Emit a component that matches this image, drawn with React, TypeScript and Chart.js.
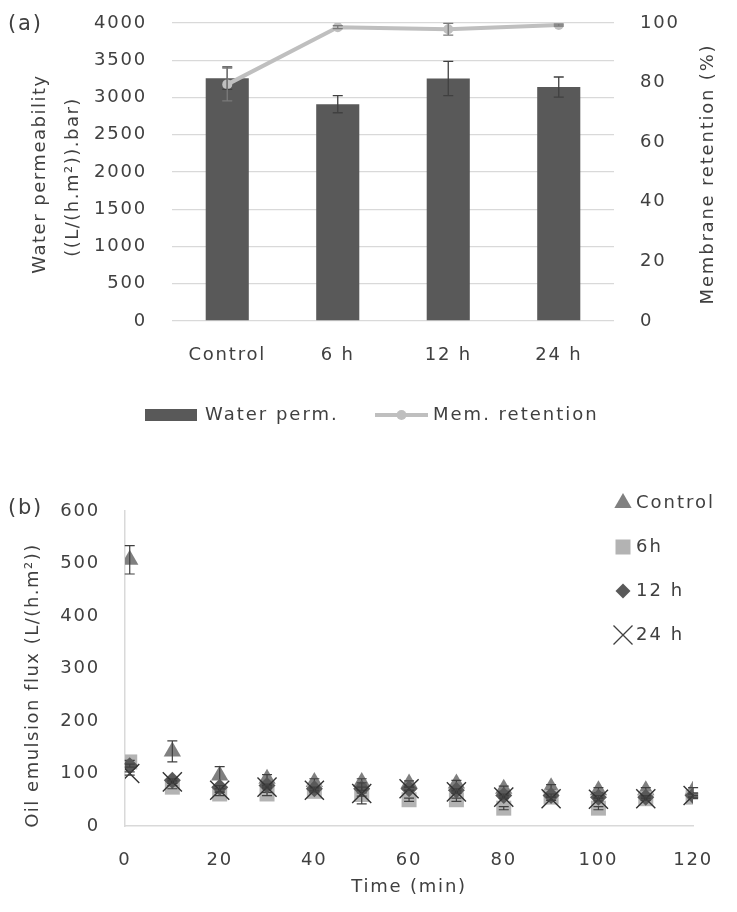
import React, { useEffect, useRef } from "react";
import { Chart, registerables } from "chart.js";

Chart.register(...registerables);

// ---------- Data: chart (a) ----------
const categoriesA = ["Control", "6 h", "12 h", "24 h"];
const waterPerm = [3260, 2910, 3255, 3140];
const waterPermErr = [150, 115, 230, 135];
const memRetention = [79.4, 98.6, 97.9, 99.3];
const memRetentionErr = [5.5, 0.5, 2, 0.3];

// ---------- Data: chart (b) ----------
const timeMin = [1, 10, 20, 30, 40, 50, 60, 70, 80, 90, 100, 110, 120];
const fluxControl = [507, 142, 96, 90, 84, 84, 81, 81, 71, 74, 68, 68, 68];
const fluxControlErr = [27, 20, 17, 8, 6, 6, 5, 6, 5, 5, 5, 5, 5];
const flux6h = [122, 74, 61, 61, 66, 60, 50, 50, 34, 55, 34, 52, 55];
const flux6hErr = [3, 3, 3, 3, 3, 3, 3, 3, 3, 3, 3, 3, 3];
const flux12h = [115, 87, 74, 77, 71, 71, 71, 68, 58, 58, 55, 55, 58];
const flux12hErr = [3, 3, 3, 3, 3, 3, 3, 3, 3, 3, 3, 3, 3];
const flux24h = [100, 84, 68, 74, 68, 62, 71, 65, 55, 52, 51, 52, 58];
const flux24hErr = [3, 3, 3, 3, 3, 20, 3, 3, 3, 3, 3, 3, 3];

const legendB = ["Control", "6h", "12 h", "24 h"];

const FONT = "'DejaVu Sans', sans-serif";
const TEXT = "#404040";
const SPACING = "1.8px";

const spacingPlugin = {
  id: "spacing",
  beforeInit(chart: any) {
    chart.ctx.letterSpacing = SPACING;
  },
  beforeLayout(chart: any) {
    chart.ctx.letterSpacing = SPACING;
  },
  beforeDraw(chart: any) {
    chart.ctx.letterSpacing = SPACING;
  },
};

const plainTick = (v: any) => String(v);

function drawErr(ctx: CanvasRenderingContext2D, x: number, y1: number, y2: number, cap: number) {
  ctx.beginPath();
  ctx.moveTo(x, y1);
  ctx.lineTo(x, y2);
  ctx.moveTo(x - cap, y1);
  ctx.lineTo(x + cap, y1);
  ctx.moveTo(x - cap, y2);
  ctx.lineTo(x + cap, y2);
  ctx.stroke();
}

function text(
  ctx: CanvasRenderingContext2D,
  s: string,
  x: number,
  y: number,
  size: number,
  align: CanvasTextAlign,
  rot = 0,
  spacing = SPACING
) {
  ctx.save();
  (ctx as any).letterSpacing = spacing;
  ctx.font = `${size}px ${FONT}`;
  ctx.fillStyle = TEXT;
  ctx.textAlign = align;
  ctx.textBaseline = "middle";
  ctx.translate(x, y);
  if (rot) ctx.rotate(rot);
  ctx.fillText(s, 0, 0);
  ctx.restore();
}

const errorPluginA = {
  id: "errA",
  afterDatasetsDraw(chart: any) {
    const ctx = chart.ctx as CanvasRenderingContext2D;
    const y = chart.scales.y;
    const y1 = chart.scales.y1;
    const barMeta = chart.getDatasetMeta(0);
    const lineMeta = chart.getDatasetMeta(1);
    ctx.save();
    ctx.lineWidth = 1.3;
    ctx.strokeStyle = "#404040";
    barMeta.data.forEach((el: any, i: number) => {
      drawErr(
        ctx,
        el.x,
        y.getPixelForValue(waterPerm[i] + waterPermErr[i]),
        y.getPixelForValue(waterPerm[i] - waterPermErr[i]),
        5
      );
    });
    ctx.strokeStyle = "#7a7a7a";
    lineMeta.data.forEach((el: any, i: number) => {
      drawErr(
        ctx,
        el.x,
        y1.getPixelForValue(memRetention[i] + memRetentionErr[i]),
        y1.getPixelForValue(memRetention[i] - memRetentionErr[i]),
        5
      );
    });
    ctx.restore();
  },
};

const decorPluginA = {
  id: "decorA",
  afterDraw(chart: any) {
    const ctx = chart.ctx as CanvasRenderingContext2D;
    const area = chart.chartArea;
    const midY = (area.top + area.bottom) / 2 + 2;
    text(ctx, "(a)", 8, 25, 21, "left");
    text(ctx, "Water permeability", 40, midY, 18, "center", -Math.PI / 2, "1.5px");
    text(ctx, "((L/(h.m\u00B2)).bar)", 73, midY + 3, 18, "center", -Math.PI / 2, "1.5px");
    text(ctx, "Membrane retention (%)", 708, midY, 18, "center", -Math.PI / 2, "1.8px");
    // legend
    const ly = 415;
    ctx.save();
    ctx.fillStyle = "#595959";
    ctx.fillRect(145, ly - 6, 52, 12);
    ctx.strokeStyle = "#bfbfbf";
    ctx.lineWidth = 4;
    ctx.beginPath();
    ctx.moveTo(375, ly);
    ctx.lineTo(428, ly);
    ctx.stroke();
    ctx.fillStyle = "#bfbfbf";
    ctx.beginPath();
    ctx.arc(401.5, ly, 5, 0, Math.PI * 2);
    ctx.fill();
    ctx.restore();
    text(ctx, "Water perm.", 205, ly, 18, "left", 0, "2px");
    text(ctx, "Mem. retention", 433, ly, 18, "left", 0, "2px");
  },
};

const errSetsB = [fluxControlErr, flux6hErr, flux12hErr, flux24hErr];
const valSetsB = [fluxControl, flux6h, flux12h, flux24h];

const errorPluginB = {
  id: "errB",
  afterDatasetDraw(chart: any, args: any) {
    const d = args.index;
    const vals = valSetsB[d];
    const errs = errSetsB[d];
    if (!vals) return;
    const ctx = chart.ctx as CanvasRenderingContext2D;
    const xs = chart.scales.x;
    const ys = chart.scales.y;
    ctx.save();
    ctx.lineWidth = 1.2;
    ctx.strokeStyle = "#404040";
    vals.forEach((v, i) => {
      const e = errs[i];
      const px = xs.getPixelForValue(timeMin[i]);
      drawErr(ctx, px, ys.getPixelForValue(v + e), ys.getPixelForValue(v - e), 5);
    });
    ctx.restore();
  },
};

function legendSymbol(ctx: CanvasRenderingContext2D, kind: number, x: number, y: number) {
  ctx.save();
  if (kind === 0) {
    const r = 10;
    ctx.fillStyle = "#808080";
    ctx.beginPath();
    ctx.moveTo(x, y - r);
    ctx.lineTo(x + r * 0.866, y + r * 0.5);
    ctx.lineTo(x - r * 0.866, y + r * 0.5);
    ctx.closePath();
    ctx.fill();
  } else if (kind === 1) {
    ctx.fillStyle = "#b3b3b3";
    ctx.fillRect(x - 7.5, y - 7.5, 15, 15);
  } else if (kind === 2) {
    const r = 7.5;
    ctx.fillStyle = "#595959";
    ctx.beginPath();
    ctx.moveTo(x - r, y);
    ctx.lineTo(x, y - r);
    ctx.lineTo(x + r, y);
    ctx.lineTo(x, y + r);
    ctx.closePath();
    ctx.fill();
  } else {
    const h = 9.5;
    ctx.strokeStyle = "#404040";
    ctx.lineWidth = 1.3;
    ctx.beginPath();
    ctx.moveTo(x - h, y - h);
    ctx.lineTo(x + h, y + h);
    ctx.moveTo(x + h, y - h);
    ctx.lineTo(x - h, y + h);
    ctx.stroke();
  }
  ctx.restore();
}

const decorPluginB = {
  id: "decorB",
  afterDraw(chart: any) {
    const ctx = chart.ctx as CanvasRenderingContext2D;
    const area = chart.chartArea;
    text(ctx, "(b)", 8, 49, 21, "left");
    text(ctx, "Oil emulsion flux (L/(h.m\u00B2))", 33, (area.top + area.bottom) / 2 + 17, 18, "center", -Math.PI / 2, "1.5px");
    text(ctx, "Time (min)", (area.left + area.right) / 2, 427, 18, "center");
    legendB.forEach((lab, i) => {
      const y = 43 + i * 44;
      legendSymbol(ctx, i, 623, y);
      text(ctx, lab, 636, y, 18, "left", 0, "2px");
    });
  },
};

const noScalePadding = (s: any) => {
  s.paddingTop = 0;
  s.paddingBottom = 0;
};

function ChartA() {
  const ref = useRef<HTMLCanvasElement>(null);
  useEffect(() => {
    const chart = new Chart(ref.current!, {
      type: "bar",
      data: {
        labels: categoriesA,
        datasets: [
          {
            type: "bar",
            label: "Water perm.",
            data: waterPerm,
            yAxisID: "y",
            backgroundColor: "#595959",
            barPercentage: 0.39,
            categoryPercentage: 1,
            order: 1,
          } as any,
          {
            type: "line",
            label: "Mem. retention",
            data: memRetention,
            yAxisID: "y1",
            borderColor: "#bfbfbf",
            backgroundColor: "#bfbfbf",
            borderWidth: 4,
            pointRadius: 5,
            pointBorderWidth: 0,
            pointBackgroundColor: "#bfbfbf",
            tension: 0,
            order: 0,
          } as any,
        ],
      },
      options: {
        animation: false,
        responsive: false,
        maintainAspectRatio: false,
        layout: { padding: { top: 23, bottom: 74, left: 0, right: 0 } },
        plugins: { legend: { display: false }, tooltip: { enabled: false } },
        scales: {
          x: {
            grid: { display: false },
            border: { display: false },
            ticks: { color: TEXT, font: { family: FONT, size: 18 }, padding: 16 },
            afterFit: (s: any) => {
              s.height = 45;
            },
          },
          y: {
            position: "left",
            min: 0,
            max: 4000,
            ticks: { stepSize: 500, padding: 25, color: TEXT, font: { family: FONT, size: 18 }, callback: plainTick },
            grid: { color: "#d9d9d9", drawTicks: false, lineWidth: 1.3 },
            border: { display: false },
            afterFit: (s: any) => {
              s.width = 172;
              noScalePadding(s);
            },
          },
          y1: {
            position: "right",
            min: 0,
            max: 100,
            ticks: { stepSize: 20, padding: 26, color: TEXT, font: { family: FONT, size: 18 }, callback: plainTick },
            grid: { display: false, drawTicks: false },
            border: { display: false },
            afterFit: (s: any) => {
              s.width = 123;
              noScalePadding(s);
            },
          },
        },
      } as any,
      plugins: [spacingPlugin, errorPluginA, decorPluginA] as any,
    });
    return () => chart.destroy();
  }, []);
  return (
    <canvas
      ref={ref}
      width={737}
      height={440}
      style={{ position: "absolute", left: 0, top: 0, width: 737, height: 440 }}
    />
  );
}

function ChartB() {
  const ref = useRef<HTMLCanvasElement>(null);
  useEffect(() => {
    const pts = (vals: number[]) => vals.map((v, i) => ({ x: timeMin[i], y: v }));
    const chart = new Chart(ref.current!, {
      type: "scatter",
      data: {
        datasets: [
          {
            label: legendB[0],
            data: pts(fluxControl),
            pointStyle: "triangle",
            pointRadius: 10,
            backgroundColor: "#808080",
            borderColor: "#808080",
            borderWidth: 0,
            order: 3,
          },
          {
            label: legendB[1],
            data: pts(flux6h),
            pointStyle: "rect",
            pointRadius: 10.6,
            backgroundColor: "#b3b3b3",
            borderColor: "#b3b3b3",
            borderWidth: 0,
            order: 2,
          },
          {
            label: legendB[2],
            data: pts(flux12h),
            pointStyle: "rectRot",
            pointRadius: 8.5,
            backgroundColor: "#595959",
            borderColor: "#595959",
            borderWidth: 0,
            order: 1,
          },
          {
            label: legendB[3],
            data: pts(flux24h),
            pointStyle: "crossRot",
            pointRadius: 13.5,
            backgroundColor: "#333333",
            borderColor: "#333333",
            borderWidth: 1.4,
            order: 0,
          },
        ],
      } as any,
      options: {
        animation: false,
        responsive: false,
        maintainAspectRatio: false,
        layout: { padding: { top: 51, bottom: 0, left: 0, right: 24 } },
        plugins: { legend: { display: false }, tooltip: { enabled: false } },
        scales: {
          x: {
            type: "linear",
            min: 0,
            max: 120,
            ticks: { stepSize: 20, padding: 24, color: TEXT, font: { family: FONT, size: 18 }, callback: plainTick },
            grid: { display: false, drawTicks: false },
            border: { display: true, color: "#d9d9d9", width: 1.5 },
            afterFit: (s: any) => {
              s.height = 86;
            },
          },
          y: {
            min: 0,
            max: 600,
            ticks: { stepSize: 100, padding: 25, color: TEXT, font: { family: FONT, size: 18 }, callback: plainTick },
            grid: { display: false, drawTicks: false },
            border: { display: true, color: "#d9d9d9", width: 1.5 },
            afterFit: (s: any) => {
              s.width = 125;
              noScalePadding(s);
            },
          },
        },
      } as any,
      plugins: [spacingPlugin, errorPluginB, decorPluginB] as any,
    });
    return () => chart.destroy();
  }, []);
  return (
    <canvas
      ref={ref}
      width={737}
      height={452}
      style={{ position: "absolute", left: 0, top: 460, width: 737, height: 452 }}
    />
  );
}

export default function App() {
  return (
    <div
      style={{
        position: "absolute",
        left: 0,
        top: 0,
        width: 737,
        height: 912,
        background: "#ffffff",
        overflow: "hidden",
      }}
    >
      <ChartA />
      <ChartB />
    </div>
  );
}
